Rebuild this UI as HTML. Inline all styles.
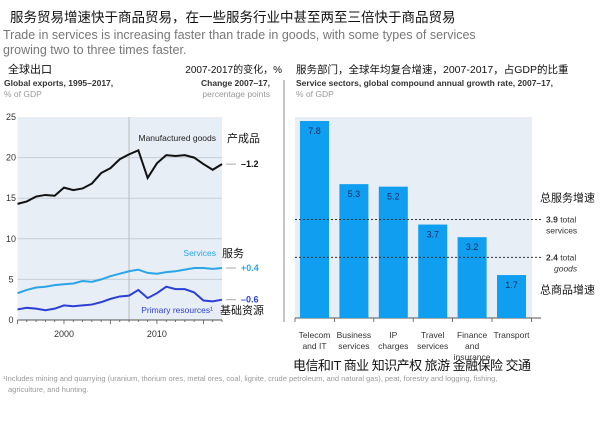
<!DOCTYPE html>
<html><head><meta charset="utf-8">
<style>
body{margin:0;width:600px;height:434px;background:#fff;overflow:hidden;font-family:"Liberation Sans","Noto Sans CJK SC",sans-serif;}
svg text{font-family:"Liberation Sans","Noto Sans CJK SC",sans-serif;}
</style></head><body>
<svg id="s" width="600" height="434" viewBox="0 0 600 434">
<text x="10" y="22" font-size="13.5" fill="#111">服务贸易增速快于商品贸易，在一些服务行业中甚至两至三倍快于商品贸易</text>
<text x="3" y="39" font-size="12.5" fill="#777">Trade in services is increasing faster than trade in goods, with some types of services</text>
<text x="3" y="54" font-size="12.5" fill="#777">growing two to three times faster.</text>

<text x="8" y="73" font-size="11" fill="#111">全球出口</text>
<text x="4" y="86" font-size="8.5" font-weight="bold" fill="#333">Global exports, 1995–2017,</text>
<text x="4" y="97" font-size="8.5" fill="#999">% of GDP</text>
<text x="282" y="73" font-size="10" text-anchor="end" fill="#111">2007-2017的变化，%</text>
<text x="270" y="86" font-size="8.5" font-weight="bold" text-anchor="end" fill="#333">Change 2007–17,</text>
<text x="270" y="97" font-size="8.5" text-anchor="end" fill="#999">percentage points</text>
<line x1="284" y1="80" x2="284" y2="322" stroke="#888" stroke-width="1"/>

<text x="296" y="73" font-size="10.5" fill="#111">服务部门，全球年均复合增速，2007-2017，占GDP的比重</text>
<text x="296" y="86" font-size="8.5" font-weight="bold" fill="#333">Service sectors, global compound annual growth rate, 2007–17,</text>
<text x="296" y="97" font-size="8.5" fill="#999">% of GDP</text>

<g id="left"></g>
<g id="right"></g>

<text x="3" y="381" font-size="7.5" fill="#999">¹Includes mining and quarrying (uranium, thorium ores, metal ores, coal, lignite, crude petroleum, and natural gas), peat, forestry and logging, fishing,</text>
<text x="8" y="392" font-size="7.5" fill="#999">agriculture, and hunting.</text>
<text x="293" y="370" font-size="13" fill="#111" textLength="238" lengthAdjust="spacing">电信和IT 商业 知识产权 旅游 金融保险 交通</text>
</svg>
<script>
const years=[1995,1996,1997,1998,1999,2000,2001,2002,2003,2004,2005,2006,2007,2008,2009,2010,2011,2012,2013,2014,2015,2016,2017];
const manufactured=[14.3,14.6,15.2,15.4,15.3,16.3,16.0,16.2,16.8,18.1,18.7,19.8,20.4,20.9,17.5,19.3,20.3,20.2,20.3,20.0,19.2,18.5,19.2];
const services=[3.3,3.7,4.0,4.1,4.3,4.4,4.5,4.8,4.7,5.0,5.4,5.7,6.0,6.2,5.8,5.7,5.9,6.0,6.2,6.4,6.4,6.3,6.4];
const primary=[1.3,1.5,1.4,1.2,1.4,1.8,1.7,1.8,1.9,2.2,2.6,2.9,3.0,3.7,2.7,3.3,4.1,3.8,3.8,3.4,2.4,2.3,2.5];
const yTicks=[0,5,10,15,20,25];
const xTicks=[2000,2010];
const changes=["–1.2","+0.4","–0.6"];
const sectors=[["Telecom","and IT"],["Business","services"],["IP","charges"],["Travel","services"],["Finance","and","insurance"],["Transport"]];
const growth=[7.8,5.3,5.2,3.7,3.2,1.7];
const totalServices=3.9, totalGoods=2.4;

const NS="http://www.w3.org/2000/svg";
function mk(p,t,a,txt){const e=document.createElementNS(NS,t);for(const k in a)e.setAttribute(k,a[k]);if(txt!==undefined)e.textContent=txt;p.appendChild(e);return e;}
const L=document.getElementById('left'),R=document.getElementById('right');
const x0=17.5,x1=222,yb=320,yt=117;
const xs=y=>x0+(y-1995)*(x1-x0)/22;
const ys=v=>yb-v*(yb-yt)/25;
let e=mk(L,'rect',{x:x0,y:yt,width:x1-x0,height:yb-yt,fill:'#e8eef5'});

yTicks.forEach(t=>{
 if(t>0&&t<25){e=mk(L,'line',{x1:x0,x2:x1,y1:ys(t),y2:ys(t),stroke:'#c9ced6','stroke-width':1});}
 e=mk(L,'text',{x:11,y:ys(t)+3,'font-size':9,'text-anchor':'middle',fill:'#333'},t);
 
});
e=mk(L,'line',{x1:xs(2007),x2:xs(2007),y1:yt,y2:yb,stroke:'#bbb','stroke-width':1});

e=mk(L,'line',{x1:x0,x2:x1,y1:yb,y2:yb,stroke:'#555','stroke-width':1});

years.forEach(y=>{const big=y%5===0;e=mk(L,'line',{x1:xs(y),x2:xs(y),y1:yb,y2:yb+(big?4:2),stroke:'#555','stroke-width':0.8});});
xTicks.forEach(t=>{e=mk(L,'text',{x:xs(t),y:337,'font-size':9,'text-anchor':'middle',fill:'#333'},t);});
const series=[[manufactured,'#111','manufactured-goods-line'],[services,'#2aa6e8','services-line'],[primary,'#2b3fd6','primary-resources-line']];
series.forEach(([d,c,n],i)=>{
 e=mk(L,'polyline',{points:d.map((v,j)=>xs(years[j])+','+ys(v)).join(' '),fill:'none',stroke:c,'stroke-width':2});
 
 const last=ys(d[d.length-1]);
 e=mk(L,'line',{x1:226,x2:236,y1:last,y2:last,stroke:'#aaa','stroke-width':1});
 
 e=mk(L,'text',{x:241,y:last+3,'font-size':9,'font-weight':'bold',fill:c},changes[i]);
 
});
const lab=[[216,141,'Manufactured goods','#222',227,'产成品','label-manufactured'],[216,256,'Services','#2aa6e8',222,'服务','label-services'],[213,313,'Primary resources¹','#2b3fd6',220,'基础资源','label-primary']];
lab.forEach(([x,y,t,c,xc,cn,n])=>{
 e=mk(L,'text',{x:x,y:y,'font-size':8.5,'text-anchor':'end',fill:c},t);
 e=mk(L,'text',{x:xc,y:y+1,'font-size':11,fill:'#111'},cn);
});

// right chart
const rb=318,rs=(rb-121)/7.8,bx0=300,bstep=39.4,bw=29;
const ry=v=>rb-v*rs;
e=mk(R,'rect',{x:295,y:117,width:237,height:rb-117,fill:'#e8eef5'});

e=mk(R,'line',{x1:295,x2:541,y1:rb,y2:rb,stroke:'#555','stroke-width':1});

for(let i=0;i<=growth.length;i++){e=mk(R,'line',{x1:bx0-5+i*bstep,x2:bx0-5+i*bstep,y1:rb,y2:rb+4,stroke:'#555','stroke-width':0.8});}
growth.forEach((v,i)=>{
 const x=bx0+i*bstep;
 e=mk(R,'rect',{x:x,y:ry(v),width:bw,height:rb-ry(v),fill:'#0f9ef0'});
 
 e=mk(R,'text',{x:x+bw/2,y:ry(v)+13,'font-size':9,'text-anchor':'middle',fill:'#1a2a5a'},v.toFixed(1));
 
 sectors[i].forEach((s,k)=>{e=mk(R,'text',{x:x+bw/2,y:338+k*11,'font-size':8.5,'text-anchor':'middle',fill:'#333'},s);});
});
[[totalServices,'total','services','总服务增速',-18,'total-services'],[totalGoods,'total','goods','总商品增速',36,'total-goods']].forEach(([v,a,b,cn,cy,n])=>{
 e=mk(R,'line',{x1:295,x2:543,y1:ry(v),y2:ry(v),stroke:'#333','stroke-width':1,'stroke-dasharray':'2,2'});
 
 e=mk(R,'text',{x:546,y:ry(v)+3,'font-size':8.5,fill:'#333'});
 
 mk(e,'tspan',{'font-weight':'bold'},v.toFixed(1));mk(e,'tspan',{},' '+a);
 e=mk(R,'text',{x:n==='total-goods'?554:546,y:ry(v)+14,'font-size':8.5,fill:'#333','font-style':n==='total-goods'?'italic':'normal'},b);
 
 e=mk(R,'text',{x:540,y:ry(v)+cy,'font-size':11,fill:'#111'},cn);
 
});
</script>
</body></html>
